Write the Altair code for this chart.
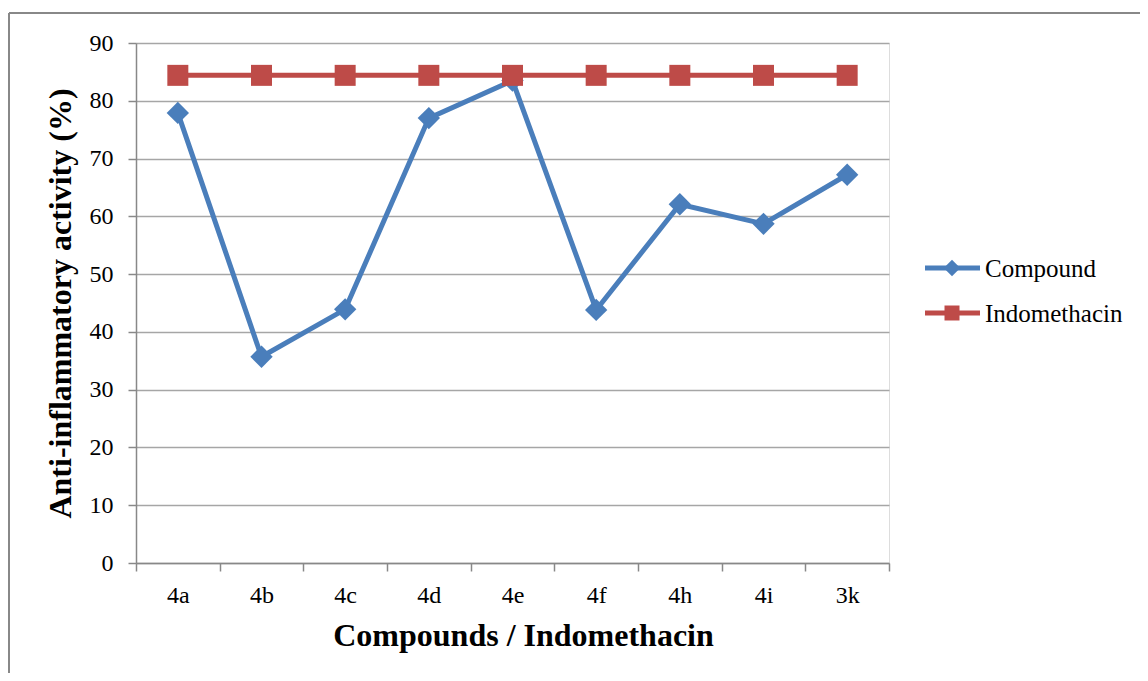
import altair as alt
import pandas as pd

categories = ["4a", "4b", "4c", "4d", "4e", "4f", "4h", "4i", "3k"]
compound = [77.9, 35.7, 43.9, 77.0, 83.5, 43.8, 62.1, 58.7, 67.2]
indomethacin = [84.4, 84.4, 84.4, 84.4, 84.4, 84.4, 84.4, 84.4, 84.4]
series_names = ["Compound", "Indomethacin"]
series_colors = ["#4A7EBB", "#BE4B48"]
y_ticks = [0, 10, 20, 30, 40, 50, 60, 70, 80, 90]

rows = []
for s, vals in zip(series_names, [compound, indomethacin]):
    for c, v in zip(categories, vals):
        rows.append({"series": s, "cat": c, "value": v})
df = pd.DataFrame(rows)
legend_df = pd.DataFrame({"series": series_names})

FONT = "Liberation Serif"

x_enc = alt.X(
    "cat:N",
    sort=categories,
    bandPosition=0.5,
    scale=alt.Scale(type="band", paddingInner=0, paddingOuter=0),
    axis=alt.Axis(
        title="Compounds / Indomethacin",
        titleFont=FONT, titleFontSize=32, titleFontWeight="bold", titleColor="black",
        titlePadding=13, titleX=387,
        labelFont=FONT, labelFontSize=24, labelColor="black", labelAngle=0, labelPadding=12,
        tickBand="extent", tickSize=8, tickColor="#888888", tickWidth=1.5,
        domainColor="#888888", domainWidth=1.5, grid=False,
    ),
)
y_enc = alt.Y(
    "value:Q",
    scale=alt.Scale(domain=[0, 90], nice=False),
    axis=alt.Axis(
        title="Anti-inflammatory  activity (%)",
        titleFont=FONT, titleFontSize=32, titleFontWeight="bold", titleColor="black",
        titlePadding=12,
        labelFont=FONT, labelFontSize=24, labelColor="black", labelPadding=15,
        values=y_ticks, tickSize=8, tickColor="#888888", tickWidth=1.5,
        domainColor="#888888", domainWidth=1.5,
        grid=True, gridColor="#A6A6A6", gridWidth=1.5,
    ),
)

color_scale = alt.Scale(domain=series_names, range=series_colors)
color_enc = alt.Color("series:N", scale=color_scale, legend=None)

base = alt.Chart(df)

lines = base.mark_line(strokeWidth=5).encode(x=x_enc, y=y_enc, color=color_enc)

pts_compound = base.transform_filter(alt.datum.series == "Compound").mark_point(
    filled=True, opacity=1, shape="diamond", size=500
).encode(x=x_enc, y=y_enc, color=color_enc)

pts_indo = base.transform_filter(alt.datum.series == "Indomethacin").mark_point(
    filled=True, opacity=1, shape="square", size=441
).encode(x=x_enc, y=y_enc, color=color_enc)

# legend drawn from the series list through its own point scale
leg_y = alt.Y("series:N", sort=series_names, axis=None,
              scale=alt.Scale(type="point", domain=series_names, range=[225, 270], padding=0))
leg_base = alt.Chart(legend_df)
leg_lines = leg_base.mark_rule(strokeWidth=5).encode(
    x=alt.value(789), x2=alt.value(844), y=leg_y, color=color_enc
)
leg_pts = leg_base.mark_point(filled=True, opacity=1).encode(
    x=alt.value(816), y=leg_y, color=color_enc,
    shape=alt.Shape("series:N", scale=alt.Scale(domain=series_names, range=["diamond", "square"]), legend=None),
    size=alt.Size("series:N", scale=alt.Scale(domain=series_names, range=[270, 225]), legend=None),
)
leg_text = leg_base.mark_text(
    align="left", baseline="middle", font=FONT, fontSize=25, color="black", dy=1
).encode(x=alt.value(849), y=leg_y, text="series:N")
legend_layers = alt.layer(leg_lines, leg_pts, leg_text)

frame_df = pd.DataFrame({"k": [0]})
frame_top = alt.Chart(frame_df).mark_rule(color="#888888", strokeWidth=2).encode(
    x=alt.value(-127), x2=alt.value(1010), y=alt.value(-30)
)
frame_left = alt.Chart(frame_df).mark_rule(color="#888888", strokeWidth=2).encode(
    x=alt.value(-127), y=alt.value(-30), y2=alt.value(640)
)

main = alt.layer(lines, pts_compound, pts_indo)

chart = alt.layer(frame_top, frame_left, main, legend_layers).resolve_scale(
    y="independent"
).properties(
    width=753, height=520,
    autosize=alt.AutoSizeParams(type="none"),
    padding={"left": 128, "top": 35, "right": 251, "bottom": 110},
).configure_view(stroke=None).configure(background="white")

chart.save("out.html", embed_options={"renderer": "svg", "actions": False})
